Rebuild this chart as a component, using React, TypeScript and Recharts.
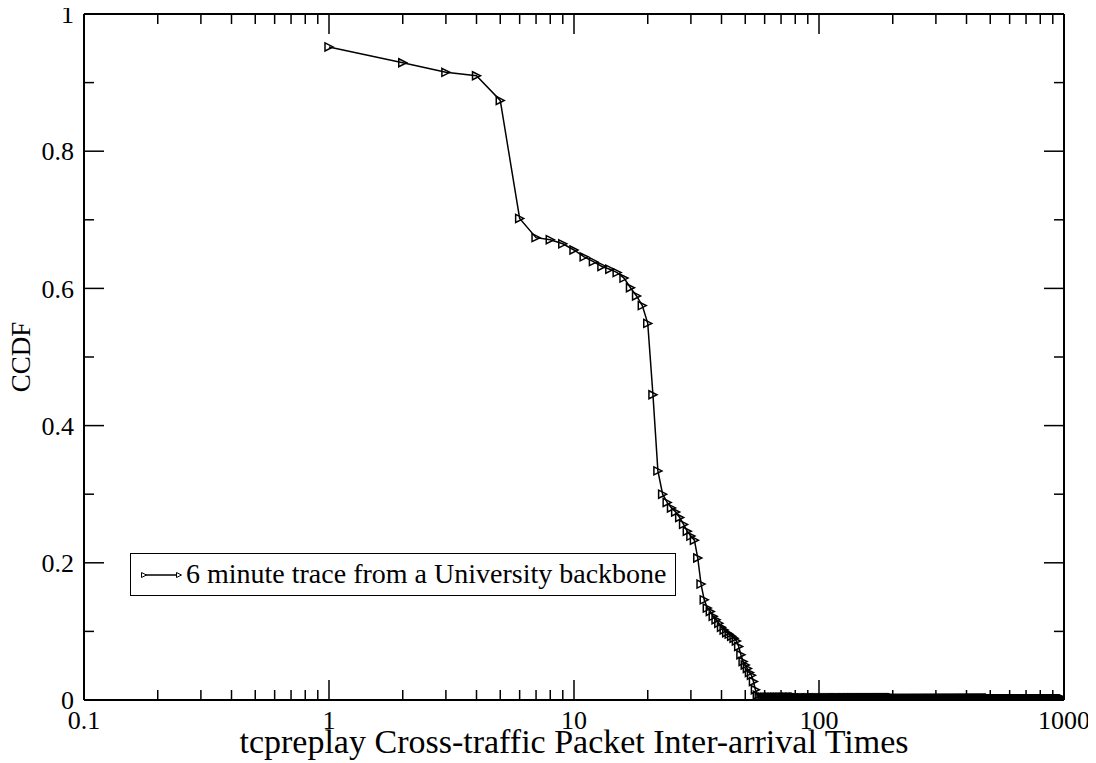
import React from 'react';
import { LineChart, Line, XAxis, YAxis, Legend, Label } from 'recharts';

// Packet inter-arrival gaps (integer units) for the steep part of the curve
const headGaps = [
  1, 2, 3, 4, 5, 6, 7, 8, 9, 10,
  11, 12, 13, 14, 15, 16, 17, 18, 19, 20,
  21, 22, 23, 24, 25, 26, 27, 28, 29, 30,
  31, 32, 33, 34, 35, 36, 37, 38, 39, 40,
  41, 42, 43, 44, 45, 46, 47, 48, 49, 50,
  51, 52, 53, 54, 55, 56, 57,
];

// CCDF value at each gap above
const headCcdf = [
  0.952, 0.929, 0.915, 0.91, 0.874, 0.702, 0.674, 0.671, 0.665, 0.656,
  0.646, 0.639, 0.632, 0.628, 0.623, 0.615, 0.601, 0.589, 0.575, 0.549,
  0.445, 0.334, 0.3, 0.288, 0.28, 0.274, 0.266, 0.256, 0.246, 0.239,
  0.233, 0.207, 0.169, 0.146, 0.134, 0.129, 0.122, 0.117, 0.112, 0.106,
  0.102, 0.098, 0.096, 0.093, 0.09, 0.086, 0.078, 0.066, 0.056, 0.051,
  0.046, 0.04, 0.036, 0.027, 0.015, 0.007, 0.004,
];

// Long flat tail: runs of consecutive integer gaps sharing one CCDF level
const tailRuns = [
  { from: 58, to: 80, ccdf: 0.004 },
  { from: 81, to: 200, ccdf: 0.003 },
  { from: 201, to: 500, ccdf: 0.002 },
  { from: 501, to: 1000, ccdf: 0.001 },
];

const xMajorTicks = [0.1, 1, 10, 100, 1000];
const xTicks = [
  0.1, 0.2, 0.3, 0.4, 0.5, 0.6, 0.7, 0.8, 0.9,
  1, 2, 3, 4, 5, 6, 7, 8, 9,
  10, 20, 30, 40, 50, 60, 70, 80, 90,
  100, 200, 300, 400, 500, 600, 700, 800, 900,
  1000,
];
const yMajorTicks = [0, 0.2, 0.4, 0.6, 0.8, 1];
const yTicks = [0, 0.1, 0.2, 0.3, 0.4, 0.5, 0.6, 0.7, 0.8, 0.9, 1];

const seriesName = '6 minute trace from a University backbone';
const xTitle = 'tcpreplay Cross-traffic Packet Inter-arrival Times';
const yTitle = 'CCDF';

const data: { gap: number; ccdf: number }[] = headGaps.map((gap, i) => ({
  gap,
  ccdf: headCcdf[i],
}));
tailRuns.forEach((run) => {
  for (let g = run.from; g <= run.to; g++) data.push({ gap: g, ccdf: run.ccdf });
});

const FONT = '"Liberation Serif", "Times New Roman", Times, serif';
const TICK_FONT = 26;
const MAJOR = 20;
const MINOR = 10;

const BottomTick = (props: any) => {
  const { x, y, payload } = props;
  const major = xMajorTicks.includes(payload.value);
  return (
    <g>
      <line x1={x} y1={y} x2={x} y2={y - (major ? MAJOR : MINOR)} stroke="#000" strokeWidth={1.5} />
      {major && (
        <text x={x} y={y + 29} textAnchor="middle" fontSize={TICK_FONT} fontFamily={FONT} fill="#000">
          {String(payload.value)}
        </text>
      )}
    </g>
  );
};

const TopTick = (props: any) => {
  const { x, y, payload } = props;
  const major = xMajorTicks.includes(payload.value);
  return <line x1={x} y1={y} x2={x} y2={y + (major ? MAJOR : MINOR)} stroke="#000" strokeWidth={1.5} />;
};

const LeftTick = (props: any) => {
  const { x, y, payload } = props;
  const major = yMajorTicks.includes(payload.value);
  return (
    <g>
      <line x1={x} y1={y} x2={x + (major ? MAJOR : MINOR)} y2={y} stroke="#000" strokeWidth={1.5} />
      {major && (
        <text x={x - 10} y={y} dy="0.35em" textAnchor="end" fontSize={TICK_FONT} fontFamily={FONT} fill="#000">
          {String(payload.value)}
        </text>
      )}
    </g>
  );
};

const RightTick = (props: any) => {
  const { x, y, payload } = props;
  const major = yMajorTicks.includes(payload.value);
  return <line x1={x} y1={y} x2={x - (major ? MAJOR : MINOR)} y2={y} stroke="#000" strokeWidth={1.5} />;
};

const triangle = (cx: number, cy: number, r: number) =>
  `M${cx - r},${cy - r}L${cx + r},${cy}L${cx - r},${cy + r}Z`;

const TriangleDot = (props: any) => {
  const { cx, cy, index } = props;
  if (cx == null || cy == null) return <g key={`d-${index}`} />;
  return (
    <path key={`d-${index}`} d={triangle(cx, cy, 4)} fill="none" stroke="#000" strokeWidth={1.5} />
  );
};

const LegendBox = () => (
  <div
    style={{
      position: 'relative',
      boxSizing: 'border-box',
      width: 546,
      height: 43,
      border: '1.5px solid #000',
      background: '#fff',
    }}
  >
    <svg width={50} height={20} style={{ position: 'absolute', left: 8, top: 11 }}>
      <line x1={5} y1={10} x2={40} y2={10} stroke="#000" strokeWidth={1.5} />
      <path d={triangle(5, 10, 2.5)} fill="#fff" stroke="#000" strokeWidth={1} />
      <path d={triangle(40, 10, 2.5)} fill="#fff" stroke="#000" strokeWidth={1} />
    </svg>
    <span
      style={{
        position: 'absolute',
        left: 55,
        top: 4,
        fontFamily: FONT,
        fontSize: 28,
        lineHeight: '32px',
        color: '#000',
        whiteSpace: 'nowrap',
      }}
    >
      {seriesName}
    </span>
  </div>
);

export default function App() {
  return (
    <div style={{ width: 1088, height: 755, background: '#fff' }}>
      <LineChart
        width={1088}
        height={755}
        data={data}
        margin={{ top: 5, right: 31, bottom: 6, left: 6 }}
      >
        <XAxis
          xAxisId="bottom"
          dataKey="gap"
          type="number"
          scale="log"
          domain={[0.1, 1000]}
          allowDataOverflow
          ticks={xTicks}
          interval={0}
          height={57}
          tickSize={0}
          tickMargin={0}
          tickLine={false}
          tick={BottomTick}
          axisLine={{ stroke: '#000', strokeWidth: 2 }}
        >
          <Label
            content={(p: any) => {
              const vb = p.viewBox || {};
              return (
                <text
                  x={vb.x + vb.width / 2}
                  y={vb.y + 53}
                  textAnchor="middle"
                  fontSize={34}
                  fontFamily={FONT}
                  fill="#000"
                >
                  {xTitle}
                </text>
              );
            }}
          />
        </XAxis>
        <XAxis
          xAxisId="top"
          orientation="top"
          dataKey="gap"
          type="number"
          scale="log"
          domain={[0.1, 1000]}
          allowDataOverflow
          ticks={xTicks}
          interval={0}
          height={1}
          tickSize={0}
          tickMargin={0}
          tickLine={false}
          tick={TopTick}
          axisLine={{ stroke: '#000', strokeWidth: 2 }}
        />
        <YAxis
          yAxisId="left"
          type="number"
          domain={[0, 1]}
          allowDataOverflow
          ticks={yTicks}
          interval={0}
          width={70}
          tickSize={0}
          tickMargin={0}
          tickLine={false}
          tick={LeftTick}
          axisLine={{ stroke: '#000', strokeWidth: 2 }}
        >
          <Label
            content={(p: any) => {
              const vb = p.viewBox || {};
              const cx = vb.x + vb.width - 63;
              const cy = vb.y + vb.height / 2;
              return (
                <text
                  x={cx}
                  y={cy}
                  dy="0.35em"
                  transform={`rotate(-90 ${cx} ${cy})`}
                  textAnchor="middle"
                  fontSize={27}
                  fontFamily={FONT}
                  fill="#000"
                >
                  {yTitle}
                </text>
              );
            }}
          />
        </YAxis>
        <YAxis
          yAxisId="right"
          orientation="right"
          type="number"
          domain={[0, 1]}
          allowDataOverflow
          ticks={yTicks}
          interval={0}
          width={1}
          tickSize={0}
          tickMargin={0}
          tickLine={false}
          tick={RightTick}
          axisLine={{ stroke: '#000', strokeWidth: 2 }}
        />
        <Legend
          layout="vertical"
          align="center"
          verticalAlign="middle"
          wrapperStyle={{ left: 122, top: 545 }}
          content={LegendBox}
        />
        <Line
          xAxisId="bottom"
          yAxisId="left"
          name={seriesName}
          dataKey="ccdf"
          stroke="#000"
          strokeWidth={1.5}
          dot={TriangleDot}
          activeDot={false}
          isAnimationActive={false}
        />
      </LineChart>
    </div>
  );
}
